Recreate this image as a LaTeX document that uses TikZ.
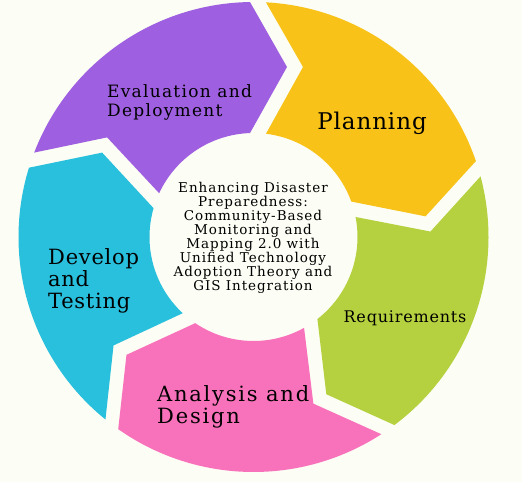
\documentclass[tikz,border=0pt]{standalone}
\usepackage{fontspec}
\setmainfont{DejaVu Serif}
\usetikzlibrary{calc}
\definecolor{bg}{RGB}{252,253,244}
\definecolor{cyellow}{RGB}{248,194,24}
\definecolor{cgreen}{RGB}{181,209,64}
\definecolor{cpink}{RGB}{248,114,187}
\definecolor{ccyan}{RGB}{41,192,222}
\definecolor{cpurple}{RGB}{158,96,224}
\newcommand\ringseg[2]{\fill[#2] (#1-3.05:235) arc[start angle=#1-3.05, end angle=#1-71.15, radius=235] -- ($(#1-72:170)+(#1-162:33.5)$) -- (#1-70.07:104) arc[start angle=#1-70.07, end angle=#1-6.90, radius=104] -- ($(#1:170)+(#1-90:49.5)$) -- cycle;}
\newcommand\fsz[3]{\fontsize{#1}{#2}\selectfont\addfontfeature{LetterSpace=#3}}
\tikzset{lbl/.style={inner sep=0pt, text=black, align=left}}
\begin{document}
\begin{tikzpicture}[x=1pt,y=1pt]
\fill[bg] (-253.5,-245) rectangle (268.5,237);
\useasboundingbox (-253.5,-245) rectangle (268.5,237);
\ringseg{90}{cyellow}
\ringseg{18}{cgreen}
\ringseg{-54}{cpink}
\ringseg{-126}{ccyan}
\ringseg{162}{cpurple}
\node[lbl, font=\fsz{23}{24}{4}] (plan) at (118.5,114) {Planning};
\node[lbl, anchor=west, font=\fsz{17}{19}{7.5}] (eval) at (-146.5,135) {Evaluation and\\Deployment};
\node[lbl, font=\fsz{16}{18}{5}] (req) at (151.5,-81) {Requirements};
\node[lbl, anchor=west, font=\fsz{21}{22}{8.5}] (ana) at (-96.5,-170) {Analysis and\\Design};
\node[lbl, anchor=west, font=\fsz{21}{22}{3.5}] (dev) at (-205.5,-44) {Develop\\and\\Testing};
\node[lbl, align=center, font=\fsz{13.5}{14}{7}] (ctr) at (-0.5,-0.5) {Enhancing Disaster\\Preparedness:\\Community-Based\\Monitoring and\\Mapping 2.0 with\\Unified Technology\\Adoption Theory and\\GIS Integration};
\end{tikzpicture}
\end{document}
